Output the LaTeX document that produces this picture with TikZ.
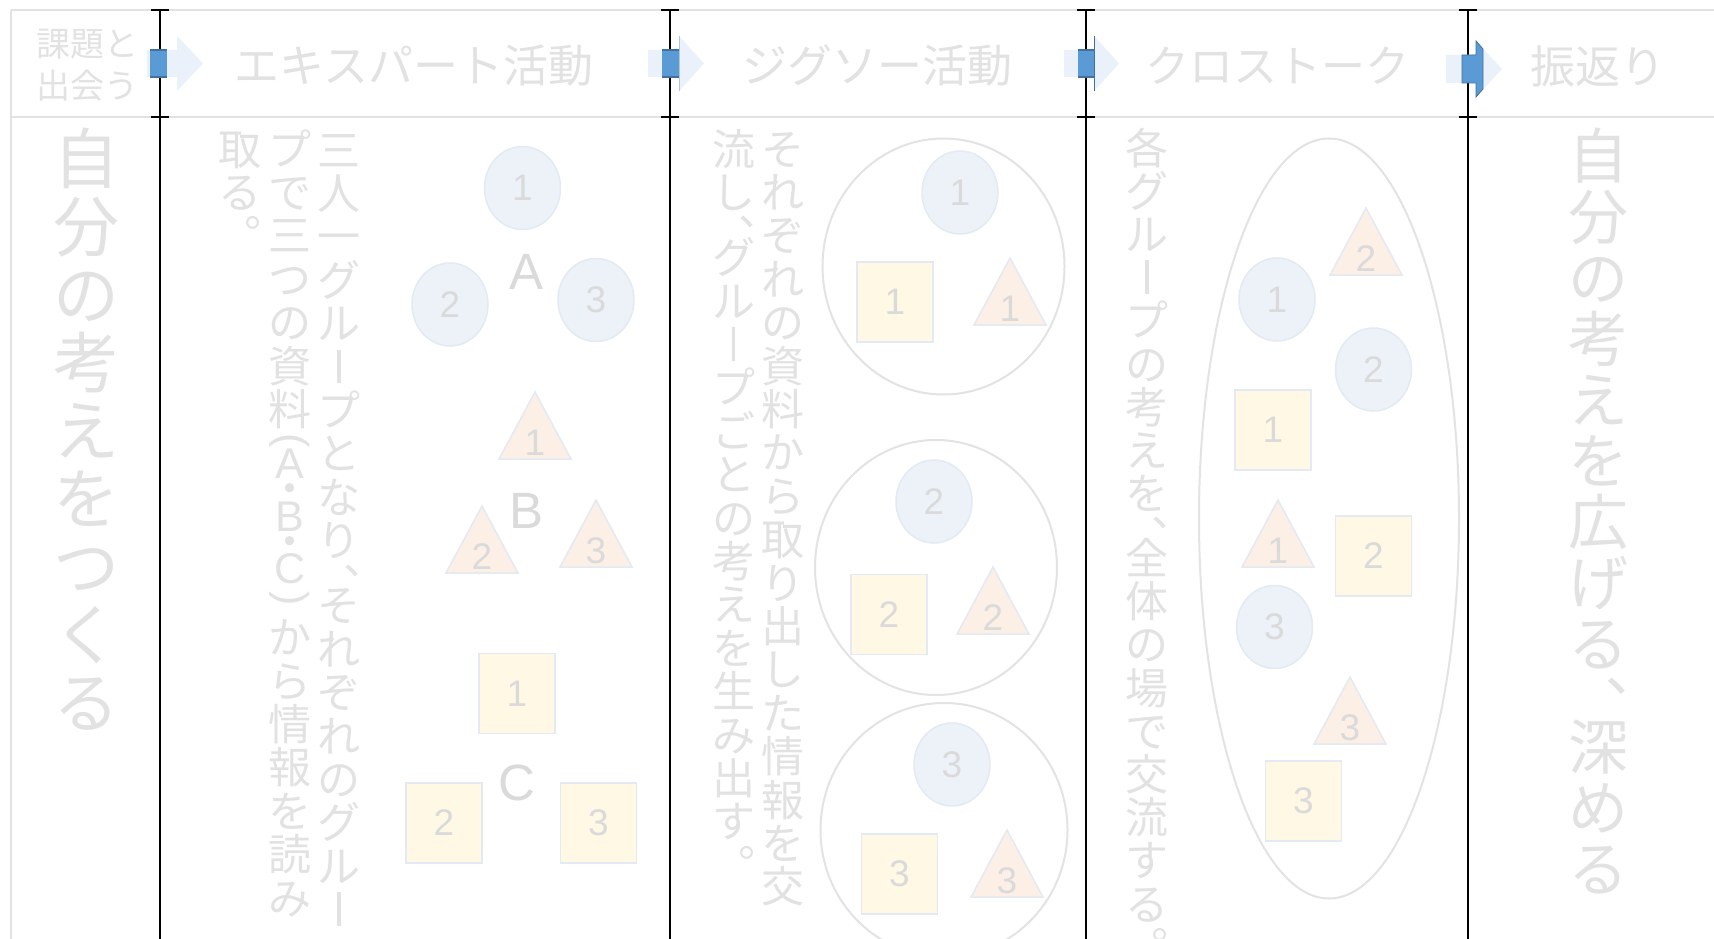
\documentclass[tikz,border=0pt]{standalone}
\usepackage{fontspec}
\newfontfamily\jp{Noto Sans CJK JP}
\newfontfamily\lat{Liberation Sans}
\usetikzlibrary{shapes.geometric}

\definecolor{txt}{HTML}{E2E2E2}
\definecolor{numc}{HTML}{DADADA}
\definecolor{gline}{HTML}{E2E2E2}
\definecolor{cfill}{HTML}{EDF2F9}
\definecolor{cdraw}{HTML}{E3EAF3}
\definecolor{tfill}{HTML}{FCEFE6}
\definecolor{sfill}{HTML}{FFF8E5}
\definecolor{bigc}{HTML}{E3E3E3}
\definecolor{pale}{HTML}{EAF1FA}
\definecolor{blu}{HTML}{5B9BD5}
\definecolor{dblu}{HTML}{41719C}

\makeatletter
\def\VTdo#1#2\VTend{\ifx#1\vskip#1#2\relax\else\hbox to 1em{\hss\vrule height .88em depth .12em width 0pt\relax #1#2\hss}\fi}
\newcommand\VT[2]{\vbox{\baselineskip=#1\relax\lineskiplimit=-\maxdimen\lineskip=0pt\relax\@tfor\vt@c:=#2\do{\expandafter\VTdo\vt@c\VTend}}}
\makeatother
\newcommand\VB{\rule{0.075em}{0.78em}}
\newcommand\VL{\lat\rotatebox[origin=c]{-90}{(}}
\newcommand\VR{\lat\rotatebox[origin=c]{-90}{)}}
\newcommand\tri[4]{%
  \draw[tri] (#2-36,#3+67) coordinate (#1l) -- (#2,#3) coordinate (#1a) -- (#2+36,#3+67) coordinate (#1r) -- cycle;
  \node[num] (#1n) at (#2,#3+51) {#4};}

\begin{document}
\begin{tikzpicture}[x=1pt,y=-1pt,
  vt/.style={inner sep=0pt, anchor=north, text=txt},
  hd/.style={inner sep=0pt, text=txt},
  num/.style={inner sep=0pt, text=numc, font=\lat\fontsize{37}{37}\selectfont},
  ltr/.style={inner sep=0pt, text=numc, font=\lat\fontsize{51}{51}\selectfont},
  bc/.style={ellipse, draw=cdraw, fill=cfill, line width=1.5pt, minimum width=76pt, minimum height=83pt, inner sep=0pt, text=numc, font=\lat\fontsize{37}{37}\selectfont},
  sq/.style={rectangle, draw=cdraw, fill=sfill, line width=1.5pt, minimum width=76pt, minimum height=80pt, inner sep=0pt, text=numc, font=\lat\fontsize{37}{37}\selectfont},
  tri/.style={draw=cdraw, fill=tfill, line width=1.5pt, line join=miter},
  big/.style={ellipse, draw=bigc, line width=2pt, inner sep=0pt},
  gl/.style={draw=gline, line width=2pt},
  bl/.style={draw=black, line width=1.8pt},
  tick/.style={draw=black, line width=2.5pt},
]
\useasboundingbox (0,0) rectangle (1714,939);
\clip (0,0) rectangle (1714,939);
\fill[white] (0,0) rectangle (1714,939);

% grid lines
\coordinate (htl) at (11,10);
\coordinate (htr) at (1714,10);
\coordinate (hbl) at (11,117);
\coordinate (hbr) at (1714,117);
\coordinate (lb) at (11,939);
\draw[gl] (htl) -- (htr);
\draw[gl] (hbl) -- (hbr);
\draw[gl] (htl) -- (lb);

\foreach \x [count=\i] in {160,670,1086,1468}{
  \coordinate (v\i t) at (\x,10);
  \coordinate (v\i b) at (\x,939);
  \draw[bl] (v\i t) -- (v\i b);
  \draw[tick] (\x-9,10) -- (\x+9,10);
  \draw[tick] (\x-9,117) -- (\x+9,117);
}

% header arrows
\fill[pale] (147,50) -- (177,50) -- (177,36) -- (203,63.5) -- (177,91) -- (177,77) -- (147,77) -- cycle;
\fill[blu] (150,50) rectangle (167,77);
\draw[dblu, line width=1.2pt] (150,50) -- (167,50) (150,77) -- (167,77);

\fill[pale] (648,50) -- (679,50) -- (679,36) -- (704,63.5) -- (679,91) -- (679,77) -- (648,77) -- cycle;
\fill[blu] (662,50) rectangle (679,77);
\draw[dblu, line width=1.2pt] (662,50) -- (679,50) (662,77) -- (679,77);
\draw[dblu!40, line width=0.8pt] (679,36) -- (679,91);

\fill[pale] (1064,50) -- (1094,50) -- (1094,36) -- (1119,63.5) -- (1094,91) -- (1094,77) -- (1064,77) -- cycle;
\fill[blu] (1078,50) rectangle (1094,77);
\draw[dblu, line width=1.2pt] (1078,50) -- (1094,50) (1078,77) -- (1094,77);
\draw[dblu, line width=1pt] (1094,36) -- (1094,91);

\fill[pale] (1446,55) -- (1476,55) -- (1476,41) -- (1502,69) -- (1476,97) -- (1476,83) -- (1446,83) -- cycle;
\fill[blu, draw=dblu, line width=0.8pt] (1462,55) -- (1476,55) -- (1476,41) -- (1483,49) -- (1483,89) -- (1476,97) -- (1476,83) -- (1462,83) -- cycle;

% header texts
\node[hd, font=\jp\fontsize{34}{42}\selectfont, align=center] (h1) at (87,65.5) {課題と\\出会う};
\node[hd, font=\jp\fontsize{45}{45}\selectfont] (h2) at (414,66) {エキスパート活動};
\node[hd, font=\jp\fontsize{45}{45}\selectfont] (h3) at (877,66) {ジグソー活動};
\node[hd, font=\jp\fontsize{44}{44}\selectfont] (h4) at (1277,66) {クロストーク};
\node[hd, font=\jp\fontsize{45}{45}\selectfont] (h5) at (1598,66) {振返り};

% vertical texts
\node[vt, font=\jp\fontsize{66}{66}\selectfont] (t1) at (86,125) {\VT{68pt}{自分の考えをつくる}};

\node[vt, font=\jp\fontsize{43}{43}\selectfont] (t2a) at (339,128) {\VT{43.4pt}{三人一グル{\VB}プとなり︑{\vskip-21.5pt}それぞれのグル{\VB}}};
\node[vt, font=\jp\fontsize{43}{43}\selectfont] (t2b) at (290,127) {\VT{43.4pt}{プで三つの資料{\vskip-17pt}{\VL}{\vskip-17pt}{\lat A}{\vskip-17pt}・{\vskip-17pt}{\lat B}{\vskip-17pt}・{\vskip-17pt}{\lat C}{\vskip-17pt}{\VR}から情報を読み}};
\node[vt, font=\jp\fontsize{43}{43}\selectfont] (t2c) at (240,127) {\VT{43.4pt}{取る︒}};

\node[vt, font=\jp\fontsize{43}{43}\selectfont] (t3a) at (783,127) {\VT{43.4pt}{それぞれの資料から取り出した情報を交}};
\node[vt, font=\jp\fontsize{43}{43}\selectfont] (t3b) at (733.5,127) {\VT{43.4pt}{流し︑{\vskip-21.5pt}グル{\VB}プごとの考えを生み出す︒}};

\node[vt, font=\jp\fontsize{43}{43}\selectfont] (t4) at (1147,126) {\VT{43.2pt}{各グル{\VB}プの考えを︑{\vskip-21.5pt}全体の場で交流する︒}};

\node[vt, font=\jp\fontsize{60}{60}\selectfont] (t5) at (1598,125) {\VT{61pt}{自分の考えを広げる︑{\vskip-19pt}深める}};

% column 2 : expert groups
\node[bc] (a1) at (522.5,188) {1};
\node[bc] (a2) at (450,304.5) {2};
\node[bc] (a3) at (596,300) {3};
\node[ltr] (la) at (527,272) {A};

\tri{b1}{535}{392}{1}
\tri{b2}{482}{506}{2}
\tri{b3}{596}{500}{3}
\node[ltr] (lbB) at (527,511) {B};

\node[sq] (c1) at (517,693.5) {1};
\node[sq] (c2) at (444,823) {2};
\node[sq] (c3) at (598.5,823) {3};
\node[ltr] (lc) at (517,783) {C};

% column 3 : jigsaw groups
\node[big, minimum width=242pt, minimum height=256pt] (g1) at (943.5,266.5) {};
\node[big, minimum width=242pt, minimum height=255pt] (g2) at (936,567.5) {};
\node[big, minimum width=247pt, minimum height=254pt] (g3) at (944,830) {};

\node[bc] (j1c) at (960,192.5) {1};
\node[sq] (j1s) at (895,302) {1};
\tri{j1t}{1010}{258}{1}

\node[bc] (j2c) at (934,501.5) {2};
\node[sq] (j2s) at (889,614.5) {2};
\tri{j2t}{993}{567}{2}

\node[bc] (j3c) at (952,764.5) {3};
\node[sq] (j3s) at (899.5,874) {3};
\tri{j3t}{1007}{830}{3}

% column 4 : cross talk
\node[big, minimum width=260pt, minimum height=760pt] (g4) at (1329,518.5) {};
\tri{k2t}{1366}{208}{2}
\node[bc] (k1c) at (1277,299.5) {1};
\node[bc] (k2c) at (1373.5,369.5) {2};
\node[sq] (k1s) at (1273,430) {1};
\tri{k1t}{1278}{500}{1}
\node[sq] (k2s) at (1373.5,556) {2};
\node[bc] (k3c) at (1274.5,627) {3};
\tri{k3t}{1350}{677}{3}
\node[sq] (k3s) at (1303.5,801) {3};
\end{tikzpicture}
\end{document}
